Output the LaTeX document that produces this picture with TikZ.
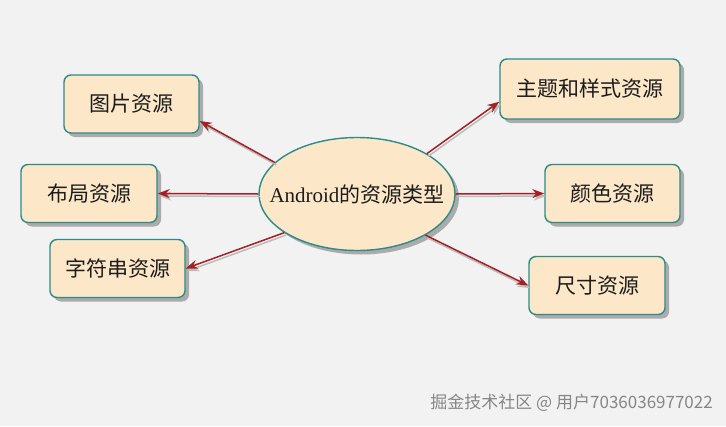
\documentclass[tikz,border=0pt]{standalone}
\usepackage{fontspec}
\setmainfont{Liberation Serif}
\newfontfamily\cjk{Noto Sans CJK SC}
\usetikzlibrary{arrows.meta,shadows,shapes.geometric}
\definecolor{bgc}{HTML}{F2F2F2}
\definecolor{boxfill}{HTML}{FCE7C8}
\definecolor{boxline}{HTML}{2B8C88}
\definecolor{arrred}{HTML}{A52024}
\definecolor{shd}{HTML}{ABABAB}
\definecolor{txt}{HTML}{1C1C1C}
\tikzset{
  res/.style={draw=boxline, fill=boxfill, line width=1.4pt, rounded corners=7pt,
    minimum width=135pt, minimum height=58pt, inner sep=0pt, text=txt,
    font=\cjk\fontsize{21}{24}\selectfont,
    drop shadow={shadow xshift=4pt, shadow yshift=-4pt, fill=shd, opacity=1}},
  hub/.style={ellipse, draw=boxline, fill=boxfill, line width=1.4pt,
    minimum width=196pt, minimum height=113pt, inner sep=0pt,
    drop shadow={shadow xshift=4pt, shadow yshift=-4pt, fill=shd, opacity=1}},
  hubtext/.style={inner sep=0pt, text=txt, font=\fontsize{21}{24}\selectfont},
  link/.style={draw=arrred, line width=1.5pt, -{Stealth[length=12pt,width=9pt]}},
  linkshadow/.style={draw=shd!80, line width=1.5pt, -{Stealth[length=12pt,width=9pt]},
    transform canvas={shift={(1.5pt,-2.5pt)}}},
}
\begin{document}
\begin{tikzpicture}[x=1pt,y=-1pt]
\fill[bgc] (0,0) rectangle (726,426);
\useasboundingbox (0,0) rectangle (726,426);

\node[hub] (c) at (357,194) {};
\node[hubtext] (ct) at (c.center) {Android{\cjk 的资源类型}};

\node[res] (p1) at (131.5,104) {图片资源};
\node[res, minimum width=136pt] (p2) at (89,193.5) {布局资源};
\node[res] (p3) at (117.5,268.5) {字符串资源};
\node[res, minimum width=180pt, minimum height=60pt] (p4) at (590,89) {主题和样式资源};
\node[res] (p5) at (612.5,193.5) {颜色资源};
\node[res, minimum width=136pt] (p6) at (597,285.5) {尺寸资源};

\foreach \st in {linkshadow, link} {
  \path[\st] (c.159.7) -- (p1.-14);
  \path[\st] (c.180) -- (p2.east);
  \path[\st] (c.208.6) -- (p3.east);
  \path[\st] (c.30) -- (p4.188.8);
  \path[\st] (c.0) -- (p5.west);
  \path[\st] (c.-31.8) -- (p6.west);
}

\node[anchor=east, inner sep=0pt, text=gray!95, font=\cjk\fontsize{17}{19}\selectfont] (wm) at (713,403) {掘金技术社区 @ 用户7036036977022};
\end{tikzpicture}
\end{document}
